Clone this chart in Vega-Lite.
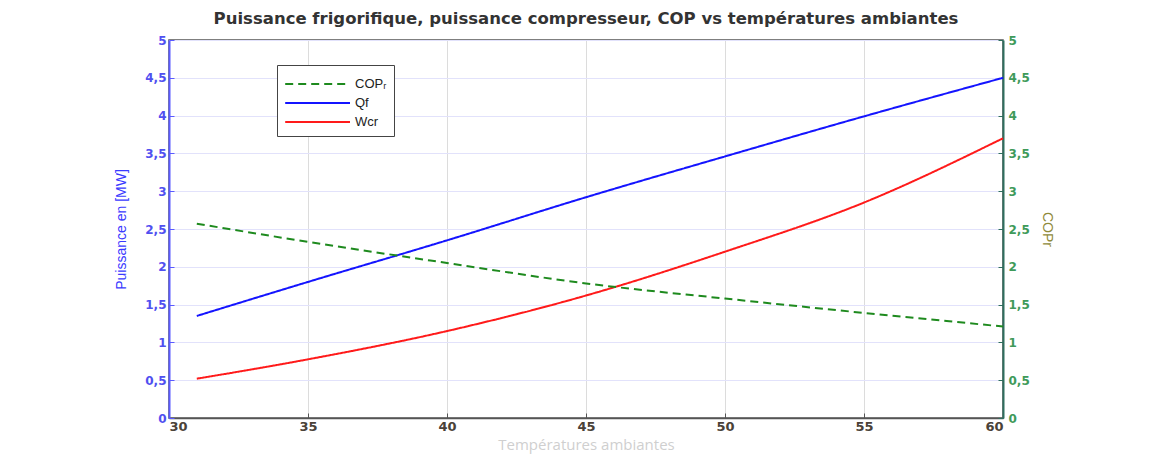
{
  "$schema": "https://vega.github.io/schema/vega-lite/v6.json",
  "width": 834,
  "height": 378,
  "autosize": {"type": "none"},
  "padding": {"left": 169, "top": 40, "right": 155, "bottom": 41},
  "background": "white",
  "title": {
    "text": "Puissance frigorifique, puissance compresseur, COP vs températures ambiantes",
    "font": "DejaVu Sans",
    "fontSize": 16.5,
    "fontWeight": "bold",
    "color": "#333333",
    "offset": 7,
    "anchor": "middle"
  },
  "data": {
    "values": [
      {"T": 31, "serie": "Qf", "val": 1.35},
      {"T": 35, "serie": "Qf", "val": 1.80},
      {"T": 40, "serie": "Qf", "val": 2.35},
      {"T": 45, "serie": "Qf", "val": 2.92},
      {"T": 50, "serie": "Qf", "val": 3.46},
      {"T": 55, "serie": "Qf", "val": 3.99},
      {"T": 60, "serie": "Qf", "val": 4.50},
      {"T": 31, "serie": "Wcr", "val": 0.52},
      {"T": 35, "serie": "Wcr", "val": 0.776},
      {"T": 40, "serie": "Wcr", "val": 1.15},
      {"T": 45, "serie": "Wcr", "val": 1.62},
      {"T": 50, "serie": "Wcr", "val": 2.20},
      {"T": 55, "serie": "Wcr", "val": 2.85},
      {"T": 60, "serie": "Wcr", "val": 3.70},
      {"T": 31, "serie": "COPᵣ", "val": 2.57},
      {"T": 35, "serie": "COPᵣ", "val": 2.33},
      {"T": 40, "serie": "COPᵣ", "val": 2.05},
      {"T": 45, "serie": "COPᵣ", "val": 1.78},
      {"T": 50, "serie": "COPᵣ", "val": 1.58},
      {"T": 55, "serie": "COPᵣ", "val": 1.39},
      {"T": 60, "serie": "COPᵣ", "val": 1.21}
    ]
  },
  "layer": [
    {
      "transform": [{"filter": "datum.serie !== 'COPᵣ'"}],
      "mark": {"type": "line", "strokeWidth": 2, "interpolate": "monotone"},
      "encoding": {
        "x": {
          "field": "T",
          "type": "quantitative",
          "scale": {"domain": [30, 60], "nice": false, "zero": false},
          "axis": {
            "title": "Températures ambiantes",
            "titleFont": "Open Sans",
            "titleFontSize": 15,
            "titleFontWeight": "normal",
            "titleColor": "#cfcfcf",
            "titlePadding": 4,
            "values": [30, 35, 40, 45, 50, 55, 60],
            "labelFont": "DejaVu Sans",
            "labelFontSize": 13,
            "labelFontWeight": "bold",
            "labelColor": "#4a4238",
            "labelPadding": 7,
            "tickSize": -5,
            "tickColor": "#555555",
            "domainColor": "#555555",
            "domainWidth": 1.5,
            "grid": true,
            "gridColor": "#dcdcdc",
            "gridWidth": 1
          }
        },
        "y": {
          "field": "val",
          "type": "quantitative",
          "scale": {"domain": [0, 5], "nice": false},
          "axis": {
            "title": "Puissance en [MW]",
            "titleFont": "Liberation Sans",
            "titleFontSize": 14,
            "titleFontWeight": "normal",
            "titleColor": "#3a3aff",
            "titlePadding": 16,
            "values": [0, 0.5, 1, 1.5, 2, 2.5, 3, 3.5, 4, 4.5, 5],
            "labelExpr": "replace(toString(datum.value), '.', ',')",
            "labelFont": "DejaVu Sans",
            "labelFontSize": 12,
            "labelFontWeight": "bold",
            "labelColor": "#5050f0",
            "labelPadding": 8,
            "tickSize": -5,
            "tickColor": "#5a5aff",
            "domainColor": "#5a5aff",
            "domainWidth": 2,
            "grid": true,
            "gridColor": "#e2e2fb",
            "gridWidth": 1
          }
        },
        "color": {
          "field": "serie",
          "type": "nominal",
          "title": null,
          "scale": {"domain": ["COPᵣ", "Qf", "Wcr"], "range": ["#1e8a1e", "#1414ff", "#ff1a1a"]},
          "legend": {"orient": "none", "legendX": 108, "legendY": 25}
        },
        "strokeDash": {
          "field": "serie",
          "type": "nominal",
          "title": null,
          "scale": {"domain": ["COPᵣ", "Qf", "Wcr"], "range": [[8, 5], [1, 0], [1, 0]]},
          "legend": {"orient": "none", "legendX": 108, "legendY": 25}
        }
      }
    },
    {
      "transform": [{"filter": "datum.serie === 'COPᵣ'"}],
      "mark": {"type": "line", "strokeWidth": 2, "interpolate": "monotone"},
      "encoding": {
        "x": {"field": "T", "type": "quantitative", "scale": {"domain": [30, 60], "nice": false, "zero": false}},
        "y": {
          "field": "val",
          "type": "quantitative",
          "scale": {"domain": [0, 5], "nice": false},
          "axis": {
            "orient": "right",
            "title": "COPr",
            "titleFont": "Liberation Sans",
            "titleFontSize": 14,
            "titleFontWeight": "normal",
            "titleColor": "#8f8a3a",
            "titlePadding": 10,
            "values": [0, 0.5, 1, 1.5, 2, 2.5, 3, 3.5, 4, 4.5, 5],
            "labelExpr": "replace(toString(datum.value), '.', ',')",
            "labelFont": "DejaVu Sans",
            "labelFontSize": 12,
            "labelFontWeight": "bold",
            "labelColor": "#3f9a5a",
            "labelPadding": 10,
            "tickSize": -5,
            "tickColor": "#2f6f5f",
            "domainColor": "#2f6f5f",
            "domainWidth": 2,
            "grid": false
          }
        },
        "color": {"field": "serie", "type": "nominal", "title": null, "scale": {"domain": ["COPᵣ", "Qf", "Wcr"], "range": ["#1e8a1e", "#1414ff", "#ff1a1a"]}, "legend": {"orient": "none", "legendX": 108, "legendY": 25}},
        "strokeDash": {"field": "serie", "type": "nominal", "title": null, "scale": {"domain": ["COPᵣ", "Qf", "Wcr"], "range": [[8, 5], [1, 0], [1, 0]]}, "legend": {"orient": "none", "legendX": 108, "legendY": 25}}
      }
    }
  ],
  "resolve": {"scale": {"y": "independent"}},
  "config": {
    "view": {"stroke": "#555555", "strokeWidth": 1.5},
    "legend": {
      "symbolType": "M-1,0H5",
      "symbolSize": 467,
      "symbolStrokeWidth": 2,
      "labelFont": "Liberation Sans",
      "labelFontSize": 13,
      "labelColor": "#222222",
      "labelOffset": 47,
      "strokeColor": "#444444",
      "fillColor": "white",
      "padding": 7,
      "rowPadding": -3
    }
  }
}
